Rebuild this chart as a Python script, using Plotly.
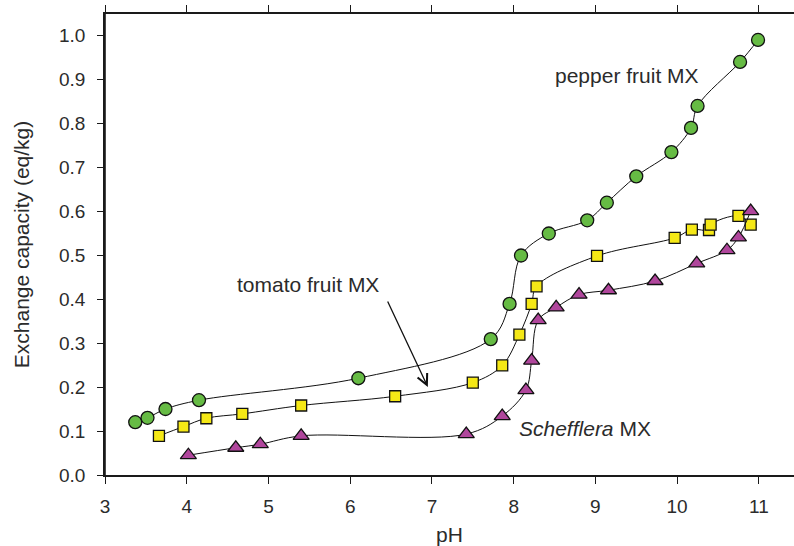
import plotly.graph_objects as go

# pepper fruit MX (green circles)
pepper_ph = [3.37, 3.52, 3.74, 4.15, 6.10, 7.72, 7.95, 8.09, 8.43, 8.90, 9.14, 9.50, 9.93, 10.17, 10.25, 10.77, 10.99]
pepper_cap = [0.120, 0.130, 0.150, 0.170, 0.220, 0.309, 0.389, 0.499, 0.549, 0.579, 0.619, 0.679, 0.734, 0.789, 0.839, 0.939, 0.989]

# tomato fruit MX (yellow squares)
tomato_ph = [3.66, 3.96, 4.24, 4.68, 5.40, 6.55, 7.50, 7.86, 8.07, 8.22, 8.28, 9.02, 9.97, 10.18, 10.39, 10.41, 10.75, 10.90]
tomato_cap = [0.089, 0.110, 0.129, 0.139, 0.158, 0.179, 0.210, 0.249, 0.319, 0.389, 0.429, 0.498, 0.539, 0.558, 0.557, 0.569, 0.589, 0.569]

# Schefflera MX (purple triangles)
scheff_ph = [4.02, 4.60, 4.90, 5.40, 7.42, 7.86, 8.15, 8.22, 8.30, 8.52, 8.80, 9.16, 9.73, 10.24, 10.61, 10.75, 10.90]
scheff_cap = [0.045, 0.062, 0.070, 0.089, 0.093, 0.134, 0.193, 0.260, 0.352, 0.381, 0.410, 0.420, 0.441, 0.481, 0.511, 0.540, 0.600]

x_ticks = [3, 4, 5, 6, 7, 8, 9, 10, 11]
y_ticks = [0.0, 0.1, 0.2, 0.3, 0.4, 0.5, 0.6, 0.7, 0.8, 0.9, 1.0]
y_tick_text = [f"{v:.1f}" for v in y_ticks]

FONT = "Liberation Sans, Arial, Helvetica, sans-serif"
TXT = "#2b2b2b"
AX = "#1a1a1a"

fig = go.Figure()

def add_series(x, y, symbol, color, size):
    fig.add_trace(go.Scatter(
        x=x, y=y, mode="lines", line=dict(color="#111", width=1, shape="spline", smoothing=1.0),
        showlegend=False, hoverinfo="skip"))
    fig.add_trace(go.Scatter(
        x=x, y=y, mode="markers",
        marker=dict(symbol=symbol, color=color, size=size, line=dict(color="#111", width=1.3)),
        showlegend=False))

add_series(pepper_ph, pepper_cap, "circle", "#66bb44", 13)
add_series(tomato_ph, tomato_cap, "square", "#f5e816", 11)
add_series(scheff_ph, scheff_cap, "triangle-up", "#b0469c", 14)

fig.add_annotation(x=9.39, y=0.909, text="pepper fruit MX", showarrow=False,
                   font=dict(family=FONT, size=21, color=TXT))
fig.add_annotation(x=5.48, y=0.432, text="tomato fruit MX", showarrow=False,
                   font=dict(family=FONT, size=21, color=TXT))
fig.add_annotation(x=8.87, y=0.105, text="<i>Schefflera</i> MX", showarrow=False,
                   font=dict(family=FONT, size=21, color=TXT))
fig.add_annotation(x=6.95, y=0.20, ax=6.45, ay=0.398, axref="x", ayref="y", text="",
                   showarrow=True, arrowhead=5, arrowsize=1.6, arrowwidth=1.3, arrowcolor="#111")

# axis line extensions beyond the plot corner
fig.add_shape(type="line", xref="x", yref="paper", x0=3, x1=3, y0=-0.016, y1=1.013,
              line=dict(color=AX, width=1.6))
fig.add_shape(type="line", xref="x", yref="y", x0=2.927, x1=3, y0=0, y1=0,
              line=dict(color=AX, width=1.6))

fig.update_layout(
    width=794, height=546,
    margin=dict(l=105, r=0, t=14, b=71),
    paper_bgcolor="white", plot_bgcolor="white",
    font=dict(family=FONT, size=19, color=TXT),
    showlegend=False,
)
fig.update_xaxes(
    range=[3, 11.43], tickvals=x_ticks, ticktext=[str(v) for v in x_ticks],
    showgrid=False, zeroline=False, showline=True, linecolor=AX, linewidth=1.6,
    mirror="ticks", ticks="outside", ticklen=7, tickwidth=1.3, tickcolor=AX,
    ticklabelstandoff=6,
    title=dict(text="pH", font=dict(size=21, color=TXT), standoff=12),
)
fig.update_yaxes(
    range=[0, 1.048], tickvals=y_ticks, ticktext=y_tick_text,
    showgrid=False, zeroline=False, showline=True, linecolor=AX, linewidth=1.6,
    ticks="outside", ticklen=6, tickwidth=1.3, tickcolor=AX,
    ticklabelstandoff=8,
    title=dict(text="Exchange capacity (eq/kg)", font=dict(size=21, color=TXT), standoff=24),
)

fig.write_html("out.html")
